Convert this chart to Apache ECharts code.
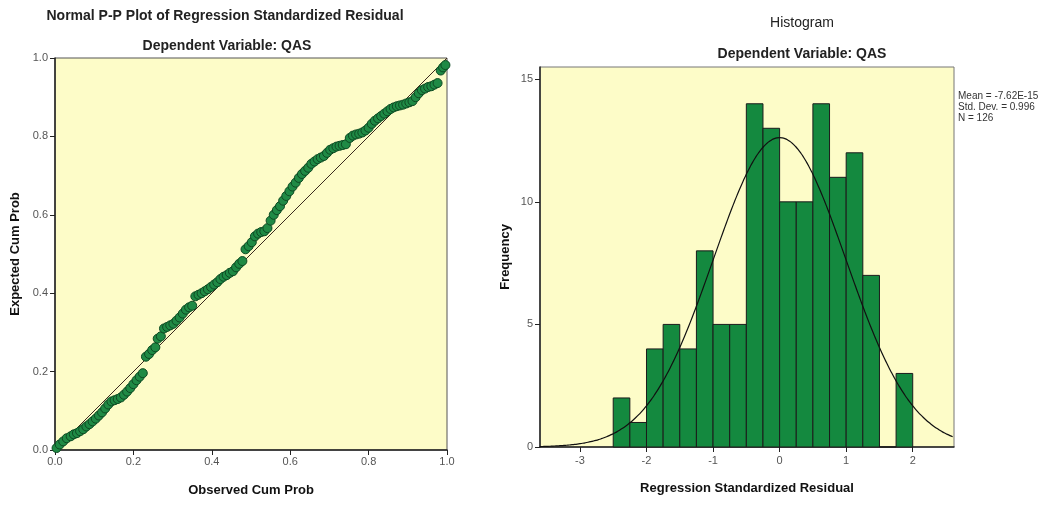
<!DOCTYPE html>
<html>
<head>
<meta charset="utf-8">
<style>
  html, body { margin: 0; padding: 0; background: #ffffff; }
  #chart { width: 1055px; height: 505px; }
</style>
<script src="https://cdn.jsdelivr.net/npm/echarts@6/dist/echarts.min.js"></script>
</head>
<body>
<div id="chart"></div>
<script>
// Normal P-P plot: observed vs expected cumulative probability of the residuals
const ppObserved = [
  0.004, 0.012, 0.021, 0.030, 0.040, 0.048, 0.056, 0.064, 0.072, 0.080,
  0.088, 0.096, 0.104, 0.112, 0.120, 0.128, 0.136, 0.144, 0.152, 0.160,
  0.168, 0.176, 0.184, 0.192, 0.200, 0.208, 0.216, 0.224, 0.232, 0.240,
  0.248, 0.256, 0.262, 0.270, 0.278, 0.286, 0.294, 0.302, 0.310, 0.318,
  0.326, 0.334, 0.342, 0.350, 0.358, 0.366, 0.374, 0.382, 0.390, 0.398,
  0.406, 0.414, 0.422, 0.430, 0.438, 0.446, 0.454, 0.462, 0.470, 0.478,
  0.486, 0.494, 0.502, 0.510, 0.518, 0.526, 0.534, 0.542, 0.550, 0.558,
  0.566, 0.574, 0.582, 0.590, 0.598, 0.606, 0.614, 0.622, 0.630, 0.638,
  0.646, 0.654, 0.662, 0.670, 0.678, 0.686, 0.694, 0.702, 0.710, 0.718,
  0.726, 0.734, 0.742, 0.752, 0.760, 0.768, 0.776, 0.784, 0.792, 0.800,
  0.808, 0.816, 0.824, 0.832, 0.840, 0.848, 0.856, 0.864, 0.872, 0.880,
  0.888, 0.896, 0.904, 0.912, 0.920, 0.928, 0.936, 0.944, 0.952, 0.960,
  0.968, 0.976, 0.984, 0.990, 0.996
];
const ppExpected = [
  0.005, 0.014, 0.022, 0.030, 0.035, 0.040, 0.043, 0.048, 0.053, 0.060,
  0.066, 0.073, 0.080, 0.088, 0.096, 0.106, 0.116, 0.124, 0.127, 0.130,
  0.134, 0.141, 0.149, 0.158, 0.168, 0.178, 0.187, 0.196, 0.238, 0.245,
  0.255, 0.262, 0.284, 0.290, 0.310, 0.314, 0.318, 0.322, 0.330, 0.338,
  0.348, 0.358, 0.364, 0.368, 0.392, 0.396, 0.400, 0.405, 0.410, 0.416,
  0.422, 0.428, 0.436, 0.442, 0.446, 0.452, 0.456, 0.466, 0.475, 0.482,
  0.512, 0.520, 0.530, 0.545, 0.552, 0.556, 0.558, 0.566, 0.585, 0.600,
  0.612, 0.622, 0.636, 0.648, 0.660, 0.672, 0.682, 0.694, 0.704, 0.712,
  0.720, 0.730, 0.736, 0.742, 0.746, 0.750, 0.758, 0.766, 0.770, 0.774,
  0.776, 0.778, 0.780, 0.796, 0.802, 0.805, 0.807, 0.810, 0.815, 0.822,
  0.832, 0.840, 0.846, 0.852, 0.858, 0.864, 0.870, 0.874, 0.877, 0.879,
  0.881, 0.884, 0.887, 0.890, 0.900, 0.910, 0.918, 0.922, 0.926, 0.928,
  0.932, 0.936, 0.968, 0.976, 0.982
];

// Histogram of regression standardized residuals (bins of width 0.25)
const binStarts = [
  -2.50, -2.25, -2.00, -1.75, -1.50, -1.25, -1.00, -0.75, -0.50,
  -0.25, 0.00, 0.25, 0.50, 0.75, 1.00, 1.25, 1.50, 1.75
];
const binCounts = [2, 1, 4, 5, 4, 8, 5, 5, 14, 13, 10, 10, 14, 11, 12, 7, 0, 3];
const binWidth = 0.25;

// Summary statistics shown beside the histogram
const statMean = -7.62e-15;
const statSd = 0.996;
const statN = 126;
const statLabels = ['Mean = -7.62E-15', 'Std. Dev. = 0.996', 'N = 126'];

const histTicks = [-3, -2, -1, 0, 1, 2];
const freqTicks = [0, 5, 10, 15];

const FONT = '"Liberation Sans", Arial, sans-serif';
const PLOT_BG = '#fdfcc8';
const BAR_GREEN = '#14893f';

// Fitted normal curve scaled to the histogram's counts
const curveData = [];
for (let x = -3.6; x <= 2.63; x += 0.04) {
  const z = (x - statMean) / statSd;
  const y = statN * binWidth * Math.exp(-0.5 * z * z) / (statSd * Math.sqrt(2 * Math.PI));
  curveData.push([x, y]);
}

const ppData = ppObserved.map((v, i) => [v, ppExpected[i]]);
const histData = binStarts.map((s, i) => [s, s + binWidth, binCounts[i]]);

const axisLabelStyle = { color: '#555', fontSize: 11, fontFamily: FONT };
const axisNameStyle = { color: '#111', fontSize: 13, fontWeight: 'bold', fontFamily: FONT };
const axisLineStyle = { show: true, onZero: false, lineStyle: { color: '#222', width: 1.5 } };
const tickStyle = { show: true, length: 5, lineStyle: { color: '#222', width: 1 } };

const chart = echarts.init(document.getElementById('chart'), null, { renderer: 'canvas' });

chart.setOption({
  animation: false,
  backgroundColor: '#ffffff',
  title: [
    {
      text: 'Normal P-P Plot of Regression Standardized Residual',
      left: 220, top: 4, textAlign: 'center',
      textStyle: { fontSize: 14, fontWeight: 'bold', color: '#222', fontFamily: FONT }
    },
    {
      text: 'Dependent Variable: QAS',
      left: 222, top: 34, textAlign: 'center',
      textStyle: { fontSize: 14, fontWeight: 'bold', color: '#222', fontFamily: FONT }
    },
    {
      text: 'Histogram',
      left: 797, top: 11, textAlign: 'center',
      textStyle: { fontSize: 14, fontWeight: 'normal', color: '#222', fontFamily: FONT }
    },
    {
      text: 'Dependent Variable: QAS',
      left: 797, top: 42, textAlign: 'center',
      textStyle: { fontSize: 14, fontWeight: 'bold', color: '#222', fontFamily: FONT }
    },
    {
      text: statLabels.join('\n'),
      left: 953, top: 86,
      textStyle: { fontSize: 10, fontWeight: 'normal', color: '#333', fontFamily: FONT, lineHeight: 11 }
    }
  ],
  grid: [
    { left: 55, top: 58, width: 392, height: 392, show: true, backgroundColor: PLOT_BG, borderColor: '#555', borderWidth: 1 },
    { left: 540, top: 67, width: 414, height: 380, show: true, backgroundColor: PLOT_BG, borderColor: '#777', borderWidth: 1 }
  ],
  xAxis: [
    {
      gridIndex: 0, type: 'value', min: 0, max: 1, interval: 0.2,
      name: 'Observed Cum Prob', nameLocation: 'middle', nameGap: 34, nameTextStyle: axisNameStyle,
      axisLine: axisLineStyle, axisTick: tickStyle, splitLine: { show: false },
      axisLabel: Object.assign({ margin: 6, formatter: v => v.toFixed(1) }, axisLabelStyle)
    },
    {
      gridIndex: 1, type: 'value', min: -3.6, max: 2.62,
      name: 'Regression Standardized Residual', nameLocation: 'middle', nameGap: 35, nameTextStyle: axisNameStyle,
      axisLine: axisLineStyle,
      axisTick: Object.assign({ customValues: histTicks }, tickStyle),
      splitLine: { show: false },
      axisLabel: Object.assign({ margin: 8, customValues: histTicks, formatter: v => String(v) }, axisLabelStyle)
    }
  ],
  yAxis: [
    {
      gridIndex: 0, type: 'value', min: 0, max: 1, interval: 0.2,
      name: 'Expected Cum Prob', nameLocation: 'middle', nameGap: 33, nameRotate: 90, nameTextStyle: axisNameStyle,
      axisLine: axisLineStyle, axisTick: tickStyle, splitLine: { show: false },
      axisLabel: Object.assign({ margin: 7, formatter: v => v.toFixed(1) }, axisLabelStyle)
    },
    {
      gridIndex: 1, type: 'value', min: 0, max: 15.5,
      name: 'Frequency', nameLocation: 'middle', nameGap: 28, nameRotate: 90, nameTextStyle: axisNameStyle,
      axisLine: axisLineStyle,
      axisTick: Object.assign({ customValues: freqTicks }, tickStyle),
      splitLine: { show: false },
      axisLabel: Object.assign({ margin: 7, customValues: freqTicks, formatter: v => String(v) }, axisLabelStyle)
    }
  ],
  series: [
    {
      name: 'reference',
      type: 'line', xAxisIndex: 0, yAxisIndex: 0,
      data: [[0, 0], [1, 1]],
      symbol: 'none', silent: true,
      lineStyle: { color: '#3b2a1e', width: 1 },
      z: 2
    },
    {
      name: 'residuals',
      type: 'scatter', xAxisIndex: 0, yAxisIndex: 0,
      data: ppData,
      symbol: 'circle', symbolSize: 9,
      itemStyle: { color: '#1f8a45', borderColor: '#0d4a22', borderWidth: 1, opacity: 1 },
      z: 3
    },
    {
      name: 'frequency',
      type: 'custom', xAxisIndex: 1, yAxisIndex: 1,
      data: histData,
      encode: { x: [0, 1], y: 2 },
      renderItem: function (params, api) {
        const p0 = api.coord([api.value(0), api.value(2)]);
        const p1 = api.coord([api.value(1), 0]);
        return {
          type: 'rect',
          shape: { x: p0[0], y: p0[1], width: p1[0] - p0[0], height: p1[1] - p0[1] },
          style: { fill: BAR_GREEN, stroke: '#1b1b1b', lineWidth: 1 }
        };
      },
      z: 2
    },
    {
      name: 'normal',
      type: 'line', xAxisIndex: 1, yAxisIndex: 1,
      data: curveData,
      symbol: 'none', smooth: true, silent: true,
      lineStyle: { color: '#111', width: 1.2 },
      z: 4
    }
  ]
});
</script>
</body>
</html>
